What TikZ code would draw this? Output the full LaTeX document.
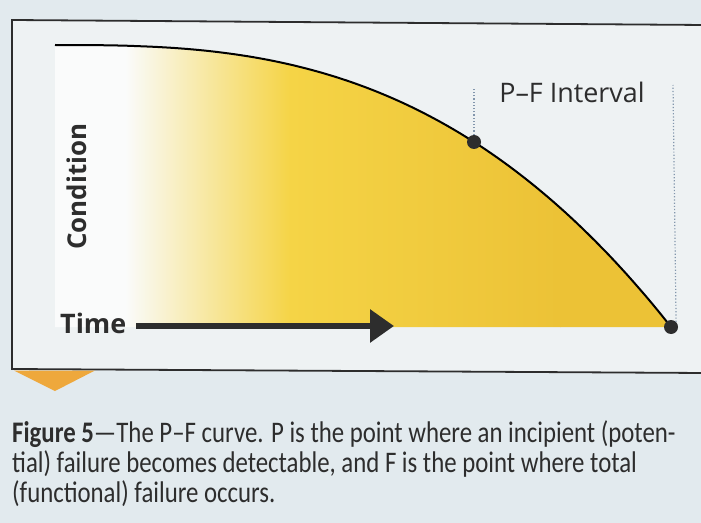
\documentclass[tikz,border=0pt]{standalone}
\usepackage{fontspec}
\setmainfont{Open Sans}
\newfontfamily\capfont[FakeStretch=0.83]{Carlito}
\usetikzlibrary{arrows.meta,positioning,calc}

\definecolor{paper}{RGB}{226,234,238}
\definecolor{panel}{RGB}{238,242,243}
\definecolor{gold}{RGB}{236,194,54}
\definecolor{midyellow}{RGB}{245,212,70}
\definecolor{inkgray}{RGB}{45,45,45}
\definecolor{dotblue}{RGB}{130,150,172}
\definecolor{tab}{RGB}{238,168,60}

\begin{document}
\begin{tikzpicture}[x=1bp, y=-1bp,
    frame/.style={draw=inkgray, line width=1.8bp},
    curve/.style={draw=black, line width=2bp},
    pfdot/.style={circle, fill=inkgray, inner sep=0pt, minimum size=14bp},
    pfguide/.style={dotblue, line width=1.2bp, dotted},
    boldlabel/.style={text=inkgray, font=\bfseries\fontsize{27}{30}\selectfont},
    captext/.style={text=inkgray, font=\capfont\fontsize{30}{30}\selectfont, inner sep=0pt}]
    \useasboundingbox (0,0) rectangle (701,523);

    % Paper and panel
    \fill[paper] (0,0) rectangle (701,523);
    \fill[panel] (12,20) -- (705,25) -- (705,373) -- (12,369) -- cycle;

    % Area under the P-F curve (white fading into yellow)
    \begin{scope}
        \clip (55,45) -- plot[domain=0.001:1, samples=100]
            ({55+616*\x}, {45+282*(\x)^2.77}) -- (671,327) -- (55,327) -- cycle;
        \fill[panel!30!white] (50,30) rectangle (125.5,330);
        \shade[left color=panel!30!white, right color=midyellow] (125,30) rectangle (290.5,330);
        \shade[left color=midyellow, right color=gold] (290,30) rectangle (560.5,330);
        \fill[gold] (560,30) rectangle (680,330);
    \end{scope}

    % The curve with points P and F
    \draw[curve] (55,45) -- plot[domain=0.001:1, samples=100]
        ({55+616*\x}, {45+282*(\x)^2.77});
    \node[pfdot] (P) at (474,142) {};
    \node[pfdot] (F) at (671,327) {};

    % P-F interval guides
    \coordinate (Ptop) at (474,88);
    \coordinate (Ftop) at (673,85);
    \draw[pfguide] (P) -- (Ptop);
    \draw[pfguide] (F.north east) -- (Ftop);
    \node[text=inkgray, font=\fontsize{27}{30}\selectfont, anchor=base, inner sep=0pt] (interval)
        at (572,103) {P–F Interval};

    % Axis labels
    \node[boldlabel, anchor=base west, inner sep=0pt] (time) at (60,333) {Time};
    \node[boldlabel, anchor=base west, inner sep=0pt, rotate=90, font=\bfseries\fontsize{26}{30}\selectfont]
        (condition) at (86,250) {Condition};
    \coordinate (timeend) at (394,326);
    \draw[inkgray, line width=6.5bp, -{Triangle[length=24bp, width=32bp]}]
        ([xshift=10bp]time.east |- timeend) -- (timeend);

    % Frame and tab
    \draw[frame] (705,25) -- (12,20) -- (12,369) -- (705,373);
    \fill[tab] (14,370.5) -- (95,370.5) -- (55,391) -- cycle;

    % Caption
    \node[captext, anchor=base west] (cap1) at (12,442)
        {\textbf{Figure 5}—The P–F curve. P is the point where an incipient (poten-};
    \node[captext, anchor=base west] (cap2) at (12,472)
        {tial) failure becomes detectable, and F is the point where total};
    \node[captext, anchor=base west] (cap3) at (12,502)
        {(functional) failure occurs.};
\end{tikzpicture}
\end{document}
